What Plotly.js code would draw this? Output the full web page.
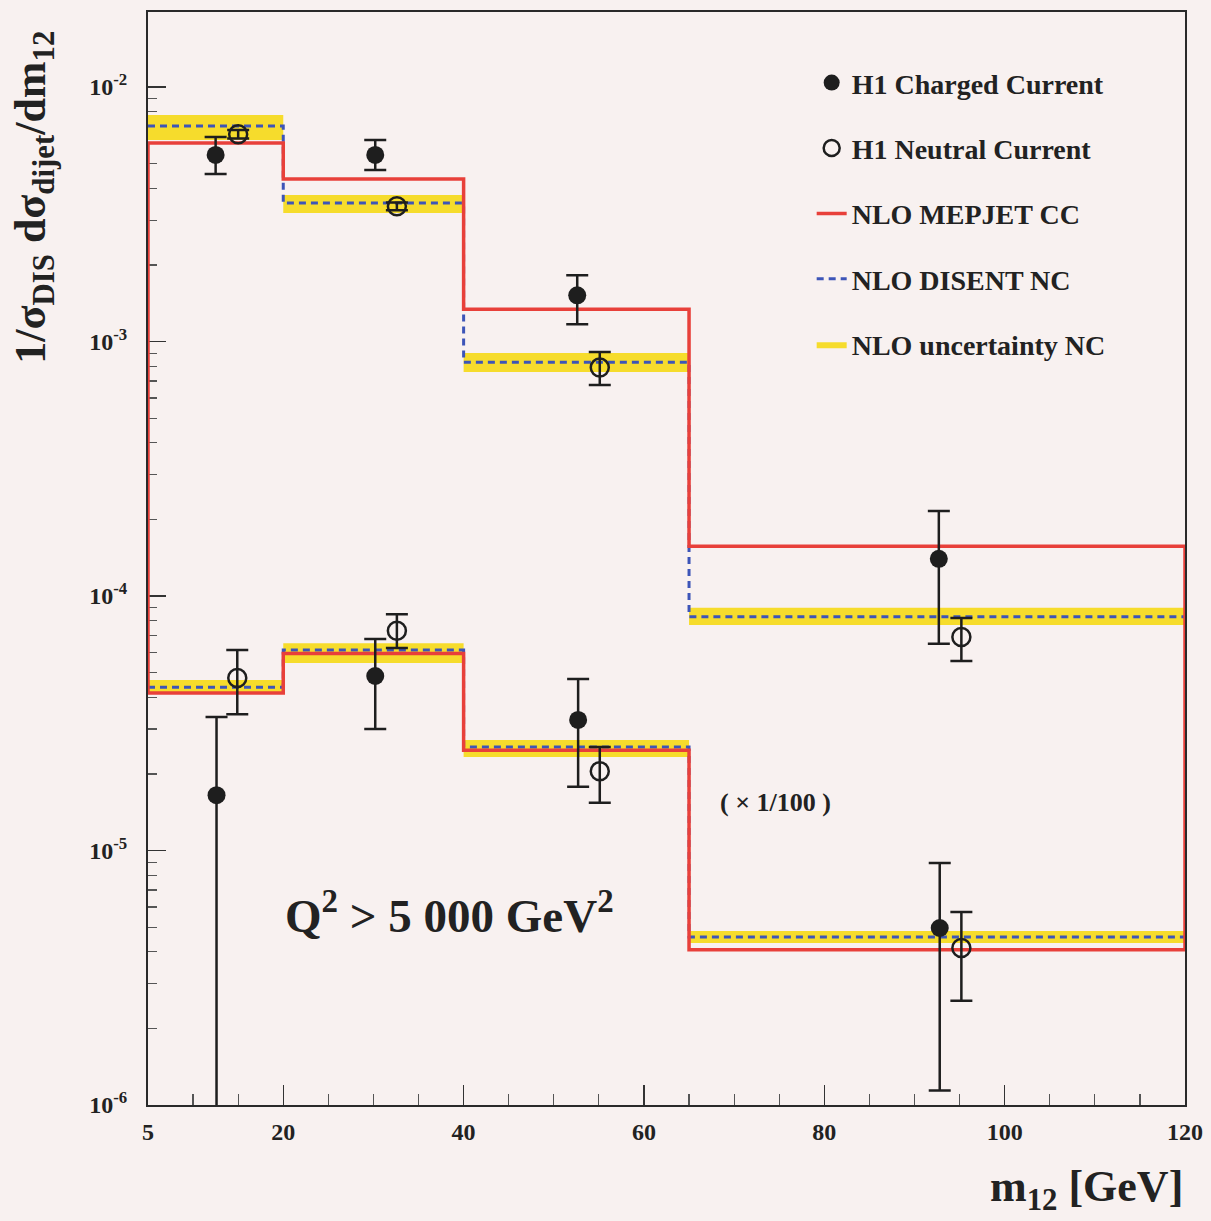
<!DOCTYPE html>
<html>
<head>
<meta charset="utf-8">
<script src="https://cdn.plot.ly/plotly-3.0.1.min.js"></script>
<style>html,body{margin:0;padding:0;background:#f8f1f0;}#plot{width:1211px;height:1221px;}</style>
</head>
<body>
<div id="plot"></div>
<script>
// ---- data ----
const binEdges = [5, 20, 40, 65, 120];

// upper set (unscaled)
const ccNloUp = [6.03e-3, 4.35e-3, 1.34e-3, 1.57e-4];
const ncNloUp = [7.03e-3, 3.50e-3, 8.3e-4, 8.3e-5];
const ncBandUpHi = [7.76e-3, 3.77e-3, 9.02e-4, 9.0e-5];
const ncBandUpLo = [6.19e-3, 3.20e-3, 7.59e-4, 7.7e-5];

const ccDataUpX = [12.5, 30.2, 52.6, 92.7];
const ccDataUpY = [5.41e-3, 5.41e-3, 1.52e-3, 1.40e-4];
const ccDataUpPlus = [0.95e-3, 0.78e-3, 0.30e-3, 0.76e-4];
const ccDataUpMinus = [0.86e-3, 0.69e-3, 0.35e-3, 0.75e-4];

const ncDataUpX = [15.0, 32.6, 55.1, 95.2];
const ncDataUpY = [6.53e-3, 3.40e-3, 7.9e-4, 6.9e-5];
const ncDataUpPlus = [0.25e-3, 0.12e-3, 1.2e-4, 1.3e-5];
const ncDataUpMinus = [0.25e-3, 0.12e-3, 1.15e-4, 1.34e-5];

// lower set (x 1/100)
const ccNloLow = [4.16e-5, 5.95e-5, 2.48e-5, 4.07e-6];
const ncNloLow = [4.38e-5, 6.13e-5, 2.55e-5, 4.57e-6];
const ncBandLowHi = [4.68e-5, 6.53e-5, 2.72e-5, 4.83e-6];
const ncBandLowLo = [4.12e-5, 5.46e-5, 2.33e-5, 4.33e-6];

const ccDataLowX = [12.6, 30.2, 52.7, 92.8];
const ccDataLowY = [1.65e-5, 4.85e-5, 3.26e-5, 4.96e-6];
const ccDataLowPlus = [1.70e-5, 1.93e-5, 1.46e-5, 3.97e-6];
const ccDataLowMinus = [1.60e-5, 1.85e-5, 1.48e-5, 3.82e-6];

const ncDataLowX = [14.9, 32.6, 55.1, 95.2];
const ncDataLowY = [4.76e-5, 7.3e-5, 2.05e-5, 4.14e-6];
const ncDataLowPlus = [1.37e-5, 1.19e-5, 0.50e-5, 1.59e-6];
const ncDataLowMinus = [1.33e-5, 1.05e-5, 0.51e-5, 1.57e-6];

const xTickVals = [5, 20, 40, 60, 80, 100, 120];
const yTickVals = [1e-6, 1e-5, 1e-4, 1e-3, 1e-2];
const yTickText = ['10<sup>-6</sup>', '10<sup>-5</sup>', '10<sup>-4</sup>', '10<sup>-3</sup>', '10<sup>-2</sup>'];

// ---- styles ----
const RED = '#e8403a';
const BLUE = '#3d55b8';
const YELLOW = '#f6dc2c';
const INK = '#1e1e1e';
const FONT = 'Liberation Serif, Times New Roman, serif';

function stepY(v) { return v.concat([v[v.length - 1]]); }

function bandTraces(hi, lo, show) {
  return [
    {x: binEdges, y: stepY(hi), mode: 'lines', line: {shape: 'hv', width: 0, color: YELLOW},
     hoverinfo: 'skip', showlegend: false, legendgroup: 'band'},
    {x: binEdges, y: stepY(lo), mode: 'lines', line: {shape: 'hv', width: 0, color: YELLOW},
     fill: 'tonexty', fillcolor: YELLOW, name: 'NLO uncertainty NC',
     showlegend: show, legendgroup: 'band', legendrank: 5}
  ];
}

function redLoop(up, low) {
  const xs = [binEdges[0]], ys = [low[0]];
  for (let i = 0; i < up.length; i++) { xs.push(binEdges[i], binEdges[i + 1]); ys.push(up[i], up[i]); }
  xs.push(binEdges[binEdges.length - 1]); ys.push(low[low.length - 1]);
  for (let i = low.length - 1; i >= 0; i--) { xs.push(binEdges[i + 1], binEdges[i]); ys.push(low[i], low[i]); }
  return {x: xs, y: ys, mode: 'lines', line: {color: RED, width: 3.5}, name: 'NLO MEPJET CC',
          legendgroup: 'cc', legendrank: 3};
}

function ncLine(v, show) {
  return {x: binEdges, y: stepY(v), mode: 'lines', line: {shape: 'hv', color: BLUE, width: 3, dash: '7px,5px'},
          name: 'NLO DISENT NC', showlegend: show, legendgroup: 'nc', legendrank: 4};
}

function pts(x, y, p, m, filled, show) {
  return {x: x, y: y, mode: 'markers', type: 'scatter',
    marker: filled ? {symbol: 'circle', size: 18, color: INK, line: {width: 0}}
                   : {symbol: 'circle-open', size: 18, color: INK, line: {width: 2.5, color: INK}},
    error_y: {type: 'data', symmetric: false, array: p, arrayminus: m, color: INK, thickness: 2.5, width: 11},
    name: filled ? 'H1 Charged Current' : 'H1 Neutral Current',
    showlegend: show, legendgroup: filled ? 'dcc' : 'dnc', legendrank: filled ? 1 : 2};
}

const traces = [].concat(
  bandTraces(ncBandUpHi, ncBandUpLo, true),
  bandTraces(ncBandLowHi, ncBandLowLo, false),
  [ncLine(ncNloUp, true), ncLine(ncNloLow, false)],
  [redLoop(ccNloUp, ccNloLow)],
  [pts(ccDataUpX, ccDataUpY, ccDataUpPlus, ccDataUpMinus, true, true),
   pts(ccDataLowX, ccDataLowY, ccDataLowPlus, ccDataLowMinus, true, false),
   pts(ncDataUpX, ncDataUpY, ncDataUpPlus, ncDataUpMinus, false, true),
   pts(ncDataLowX, ncDataLowY, ncDataLowPlus, ncDataLowMinus, false, false)]
);

const minorY = [];
for (let e = -6; e < -1; e++) for (let k = 2; k <= 9; k++) minorY.push(k * Math.pow(10, e));

const layout = {
  width: 1211, height: 1221,
  paper_bgcolor: '#f8f1f0', plot_bgcolor: '#f8f1f0',
  margin: {l: 148, r: 26, t: 12, b: 116},
  font: {family: FONT, color: INK},
  showlegend: true,
  legend: {x: 0.64, y: 0.958, xanchor: 'left', yanchor: 'top', bgcolor: 'rgba(0,0,0,0)',
           font: {family: FONT, size: 28, weight: 'bold', color: '#222'},
           traceorder: 'grouped', tracegroupgap: 26, itemwidth: 30},
  xaxis: {range: [5, 120], tickmode: 'array', tickvals: xTickVals, ticks: 'inside', ticklen: 20,
          tickwidth: 1.5, tickcolor: '#333', showgrid: false, zeroline: false,
          showline: true, mirror: true, linecolor: '#2a2a2a', linewidth: 2, layer: 'below traces',
          tickfont: {family: FONT, size: 24, weight: 'bold', color: '#222'}, ticklabelstandoff: 4,
          minor: {tickmode: 'linear', tick0: 5, dtick: 5, ticks: 'inside', ticklen: 11, tickcolor: '#555', tickwidth: 1.2, showgrid: false}},
  yaxis: {type: 'log', range: [-6, -1.705], tickmode: 'array', tickvals: yTickVals, ticktext: yTickText,
          ticks: 'inside', ticklen: 18, tickwidth: 1.5, tickcolor: '#333',
          showgrid: false, zeroline: false, showline: true, mirror: true, linecolor: '#2a2a2a', linewidth: 2,
          layer: 'below traces',
          tickfont: {family: FONT, size: 24, weight: 'bold', color: '#222'}, ticklabelstandoff: 14,
          minor: {tickmode: 'array', tickvals: minorY, ticks: 'inside', ticklen: 9, tickcolor: '#555', tickwidth: 1.2, showgrid: false}},
  annotations: [
    {text: '1/σ<sub>DIS</sub> dσ<sub>dijet</sub>/dm<sub>12</sub>', xref: 'paper', yref: 'paper',
     x: -0.11, y: 0.831, xanchor: 'center', yanchor: 'middle', textangle: -90, showarrow: false,
     font: {family: FONT, size: 44, weight: 'bold', color: '#222'}},
    {text: 'm<sub>12</sub> [GeV]', xref: 'paper', yref: 'paper', x: 1.0, y: -0.077,
     xanchor: 'right', yanchor: 'middle', showarrow: false,
     font: {family: FONT, size: 44, weight: 'bold', color: '#222'}},
    {text: '( × 1/100 )', xref: 'paper', yref: 'paper', x: 0.605, y: 0.277,
     xanchor: 'center', yanchor: 'middle', showarrow: false,
     font: {family: FONT, size: 26, weight: 'bold', color: '#222'}},
    {text: 'Q<sup>2</sup> > 5 000 GeV<sup>2</sup>', xref: 'paper', yref: 'paper', x: 0.291, y: 0.176,
     xanchor: 'center', yanchor: 'middle', showarrow: false,
     font: {family: FONT, size: 47, weight: 'bold', color: '#222'}}
  ]
};

Plotly.newPlot('plot', traces, layout, {displayModeBar: false, staticPlot: true});
</script>
</body>
</html>
